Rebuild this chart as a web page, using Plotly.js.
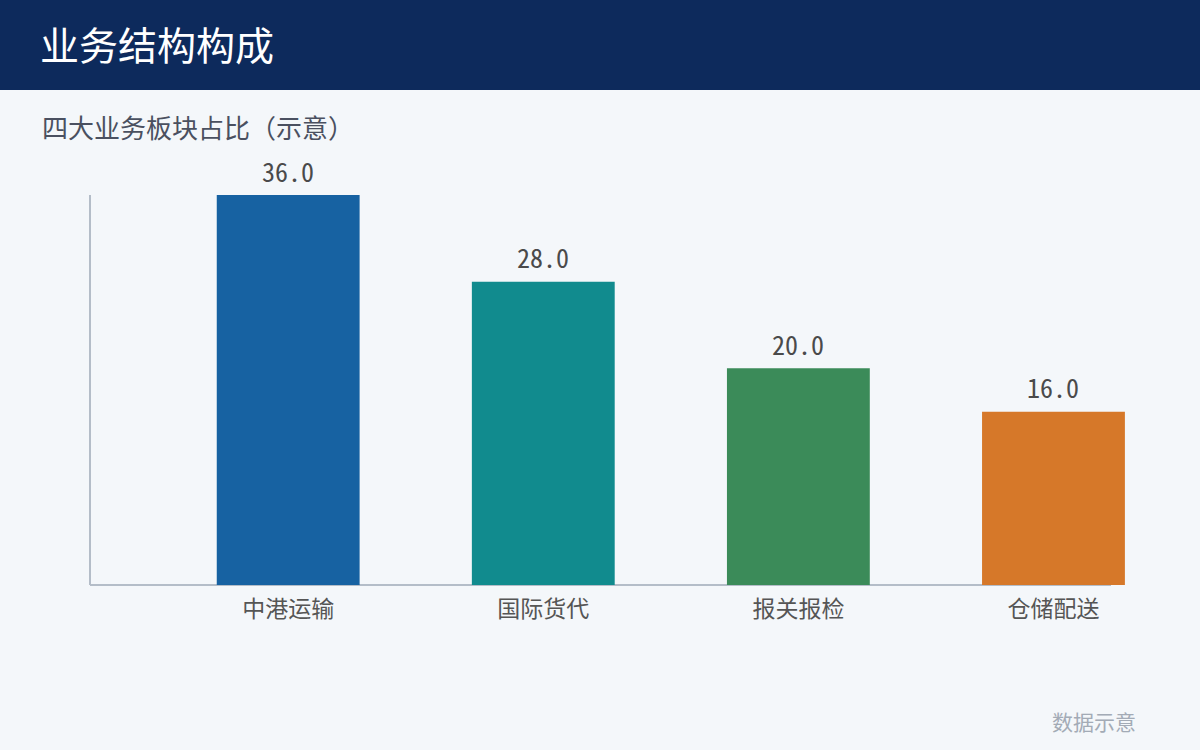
<!DOCTYPE html>
<html>
<head>
<meta charset="utf-8">
<script src="https://cdn.plot.ly/plotly-3.0.1.min.js"></script>
<style>
html,body{margin:0;padding:0;background:#f4f7fa;}
#chart{width:1200px;height:750px;}
</style>
</head>
<body>
<div id="chart"></div>
<script>
const categories = ["中港运输", "国际货代", "报关报检", "仓储配送"];
const values = [36.0, 28.0, 20.0, 16.0];
const barColors = ["#1762a2", "#118b8e", "#3b8b59", "#d67829"];
const titleText = "业务结构构成";
const subtitleText = "四大业务板块占比（示意）";
const noteText = "数据示意";

const FONT = "'Noto Sans CJK SC', 'Noto Sans', sans-serif";
const NUMFONT = "'Noto Sans Mono CJK SC', 'Noto Sans CJK SC', sans-serif";
const W = 1200, H = 750;
const mL = 91, mR = 70, mT = 195, mB = 165;
const pw = W - mL - mR, ph = H - mT - mB;
const px = x => (x - mL) / pw;
const py = y => (H - mB - y) / ph;

const trace = {
  type: "bar",
  x: categories,
  y: values,
  marker: {color: barColors, line: {width: 0}},
  width: 0.56,
  hoverinfo: "none"
};

const valueLabels = categories.map((c, i) => ({
  x: c, y: values[i], xref: "x", yref: "y",
  text: values[i].toFixed(1),
  showarrow: false, yanchor: "middle", yshift: 25,
  font: {family: NUMFONT, size: 26, color: "#4a4a4a"}
}));

const layout = {
  width: W, height: H,
  margin: {l: mL, r: mR, t: mT, b: mB, pad: 0},
  paper_bgcolor: "#f4f7fa",
  plot_bgcolor: "#f4f7fa",
  showlegend: false,
  font: {family: FONT},
  title: {
    text: titleText,
    font: {family: FONT, size: 39, color: "#ffffff"},
    x: 40 / W, xanchor: "left", xref: "container",
    y: 1 - 46 / H, yanchor: "middle", yref: "container"
  },
  xaxis: {
    type: "category",
    range: [-0.773, 3.30],
    showline: false,
    showgrid: false, zeroline: false,
    ticks: "", ticklen: 0,
    ticklabelstandoff: 8,
    tickfont: {family: FONT, size: 23, color: "#555555"},
    fixedrange: true
  },
  yaxis: {
    range: [0, 36],
    showline: true, linecolor: "#b4bdc8", linewidth: 2,
    showgrid: false, zeroline: false,
    showticklabels: false, ticks: "",
    fixedrange: true
  },
  shapes: [
    {
      type: "rect", xref: "paper", yref: "paper",
      x0: px(0), x1: px(W), y0: py(90), y1: py(0),
      fillcolor: "#0d2a5c", line: {width: 0}, layer: "below"
    },
    {
      type: "line", xref: "paper", yref: "paper",
      x0: px(90), x1: px(1111), y0: 0, y1: 0,
      line: {color: "#b4bdc8", width: 2}, layer: "below"
    }
  ],
  annotations: [
    {
      text: subtitleText, xref: "paper", yref: "paper",
      x: px(40), xanchor: "left", y: py(127), yanchor: "middle",
      showarrow: false, font: {family: FONT, size: 26, color: "#4a5060"}
    },
    {
      text: noteText, xref: "paper", yref: "paper",
      x: px(1138), xanchor: "right", y: py(721), yanchor: "middle",
      showarrow: false, font: {family: FONT, size: 21, color: "#a3abb6"}
    }
  ].concat(valueLabels)
};

Plotly.newPlot("chart", [trace], layout, {displayModeBar: false, staticPlot: true});
</script>
</body>
</html>
